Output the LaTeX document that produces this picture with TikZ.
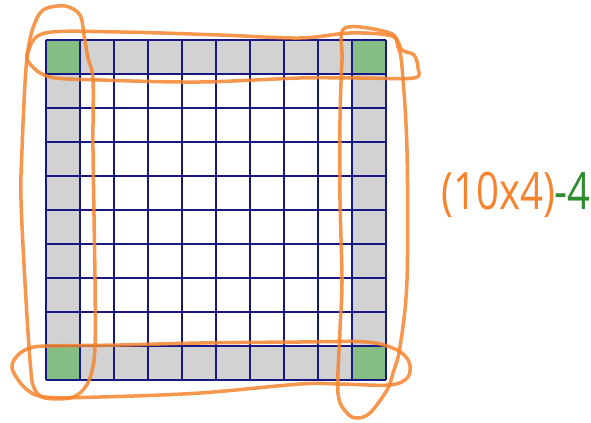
\documentclass[tikz,border=0pt]{standalone}
\usepackage{fontspec}
\setmainfont{Open Sans}
\usepackage{tikz}
\usetikzlibrary{calc,positioning}
\definecolor{myOrange}{RGB}{246,132,46}
\definecolor{myNavy}{RGB}{24,24,132}
\definecolor{myGray}{RGB}{210,210,210}
\definecolor{myGreen}{RGB}{132,190,130}
\definecolor{myTextGreen}{RGB}{48,140,48}
\tikzset{
myEdgeCell/.style={
	fill=myGray
}
, myCornerCell/.style={
	fill=myGreen
}
, myGrid/.style={
	draw=myNavy,line width=2.1pt
}
% hand drawn loops
, myLoop/.style={
	draw=myOrange,line width=3pt,line cap=round,line join=round,
	draw opacity=0.85
}
, myFormula/.style={
	inner sep=0pt,font=\fontsize{44}{44}\selectfont
}
}
\begin{document}
\begin{tikzpicture}[x=0.03cm,y=-0.03cm]
	\useasboundingbox (0,0) rectangle (591,423);
	% border cells
	\foreach \i in {0,...,9}{
		\fill[myEdgeCell] (46+34*\i,40) rectangle ++(34,34);
		\fill[myEdgeCell] (46+34*\i,346) rectangle ++(34,34);
		\fill[myEdgeCell] (46,40+34*\i) rectangle ++(34,34);
		\fill[myEdgeCell] (352,40+34*\i) rectangle ++(34,34);
	}
	% corners
	\foreach \x/\y in {46/40,352/40,46/346,352/346}
		\fill[myCornerCell] (\x,\y) rectangle ++(34,34);
	% grid
	\foreach \i in {0,...,10}{
		\draw[myGrid] (46+34*\i,40) -- (46+34*\i,380);
		\draw[myGrid] (46,40+34*\i) -- (386,40+34*\i);
	}
	% top row
	\draw[myLoop] plot[smooth cycle,tension=0.55] coordinates {
		(28,52) (45,33) (120,32) (220,35) (300,38) (350,33) (392,36)
		(402,50) (414,55) (418,68) (414,78) (360,78) (300,78) (200,82)
		(100,80) (50,77) (30,64)};
	% bottom row
	\draw[myLoop] plot[smooth cycle,tension=0.55] coordinates {
		(47,346) (120,345) (200,343) (300,342) (367,342) (397,350)
		(409,362) (408,377) (390,385) (340,384) (300,384) (200,393)
		(100,397) (45,397) (25,388) (12,368) (18,355) (30,348)};
	% left column
	\draw[myLoop] plot[smooth cycle,tension=0.55] coordinates {
		(43,10) (65,6) (80,15) (84,35) (88,58) (93,80) (93,150) (95,280)
		(95,347) (91,375) (83,390) (70,398) (45,398) (35,390) (31,372)
		(26,300) (21,200) (22,150) (25,83) (28,50) (33,28)};
	% right column
	\draw[myLoop] plot[smooth cycle,tension=0.55] coordinates {
		(345,28) (390,33) (398,47) (402,67) (407,150) (407,280) (400,347)
		(393,373) (387,390) (370,413) (357,418) (347,413) (338,393)
		(340,330) (342,280) (340,200) (340,120) (342,60)};
	% formula
	\node[myFormula] (formula) at (516,195)
		{\scalebox{0.78}[1]{\textcolor{myOrange}{(10x4)}\textcolor{myTextGreen}{-4}}};
\end{tikzpicture}
\end{document}
